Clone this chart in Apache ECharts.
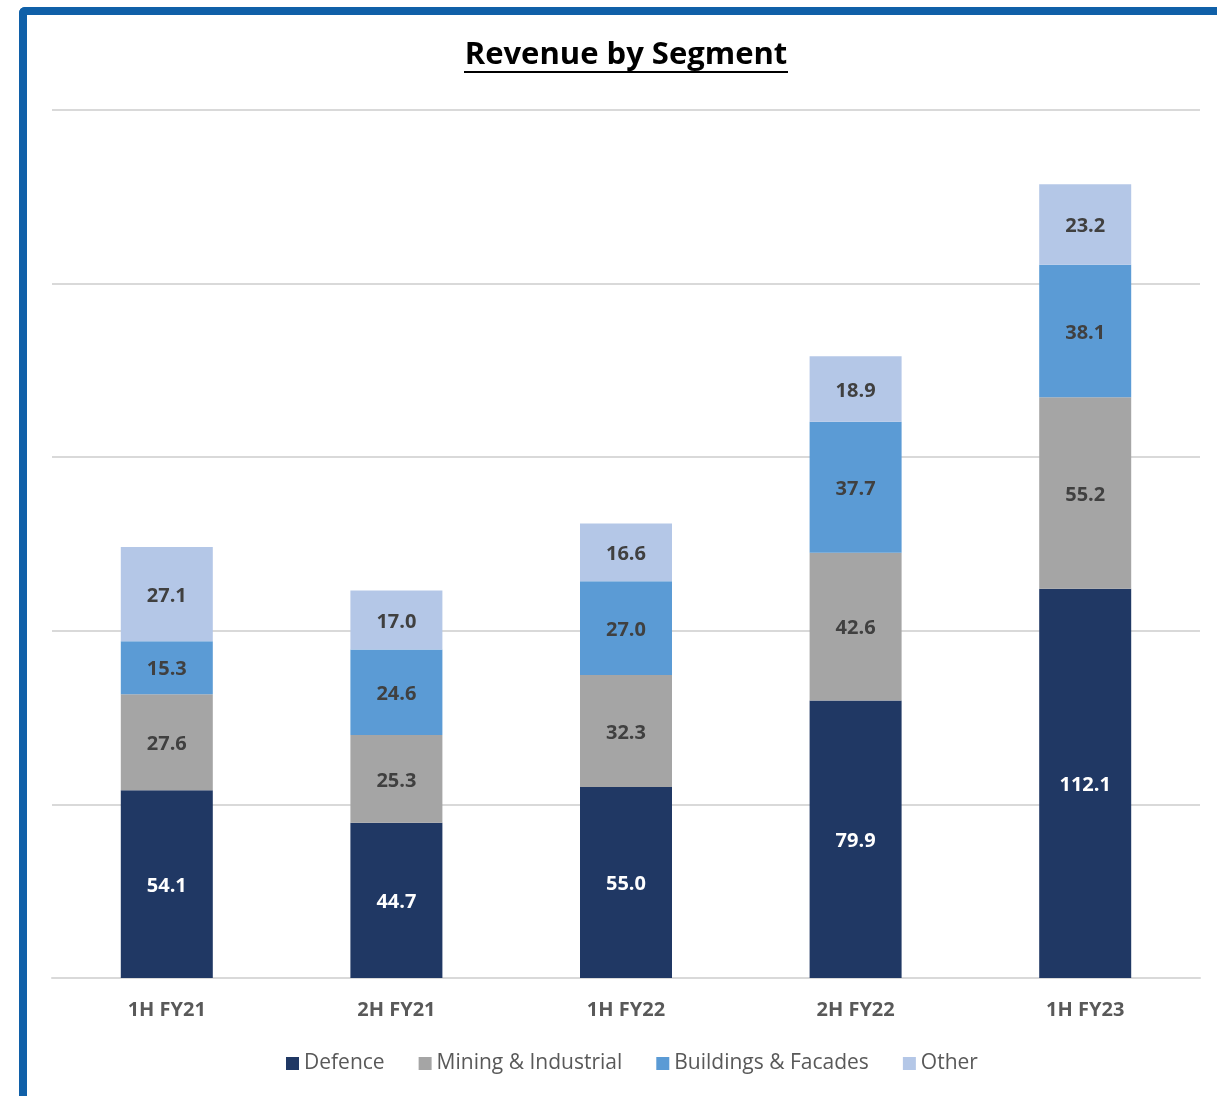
<!DOCTYPE html>
<html>
<head>
<meta charset="utf-8">
<script src="https://cdn.jsdelivr.net/npm/echarts@6/dist/echarts.min.js"></script>
<style>
  html, body { margin: 0; padding: 0; background: #fff; }
  #frame {
    position: absolute; left: 19px; top: 7px; width: 1400px; height: 1300px;
    border-left: 8px solid #1060A8; border-top: 8px solid #1060A8;
    border-top-left-radius: 6px; box-sizing: border-box;
  }
  #chart { position: absolute; left: 0; top: 0; width: 1217px; height: 1096px; }
</style>
</head>
<body>
<div id="frame"></div>
<div id="chart"></div>
<script>
const categories = ['1H FY21', '2H FY21', '1H FY22', '2H FY22', '1H FY23'];
const defence = [54.1, 44.7, 55.0, 79.9, 112.1];
const mining = [27.6, 25.3, 32.3, 42.6, 55.2];
const buildings = [15.3, 24.6, 27.0, 37.7, 38.1];
const other = [27.1, 17.0, 16.6, 18.9, 23.2];

const FONT = '"Open Sans", "Noto Sans", sans-serif';

const chart = echarts.init(document.getElementById('chart'));

function seg(name, data, color, labelColor) {
  return {
    name: name,
    type: 'bar',
    stack: 'total',
    data: data,
    barWidth: 92,
    itemStyle: { color: color },
    label: {
      show: true,
      position: 'inside',
      offset: [0, 2],
      color: labelColor,
      fontFamily: FONT,
      fontWeight: 'bold',
      fontSize: 20,
      formatter: p => p.value.toFixed(1)
    }
  };
}

const option = {
  backgroundColor: 'transparent',
  animation: false,
  graphic: [
    {
      type: 'text',
      x: 626,
      y: 55,
      style: {
        text: 'Revenue by Segment',
        fontFamily: FONT,
        fontWeight: 'bold',
        fontSize: 31,
        fill: '#000',
        align: 'center',
        verticalAlign: 'middle'
      }
    },
    {
      type: 'line',
      shape: { x1: 464, y1: 72, x2: 788, y2: 72 },
      style: { stroke: '#000', lineWidth: 2 }
    }
  ],
  legend: {
    bottom: 17,
    left: 281,
    itemWidth: 13,
    itemHeight: 13,
    itemGap: 34,
    icon: 'rect',
    textStyle: { fontFamily: FONT, fontSize: 21, color: '#595959' },
    data: ['Defence', 'Mining & Industrial', 'Buildings & Facades', 'Other']
  },
  grid: { left: 52, right: 17, top: 110, bottom: 118 },
  xAxis: {
    type: 'category',
    data: categories,
    axisLine: { show: true, lineStyle: { color: '#D9D9D9', width: 2 } },
    axisTick: { show: false },
    axisLabel: {
      margin: 22,
      fontFamily: FONT,
      fontWeight: 'bold',
      fontSize: 20,
      color: '#595959'
    }
  },
  yAxis: {
    type: 'value',
    min: 0,
    max: 250,
    interval: 50,
    axisLabel: { show: false },
    axisLine: { show: false },
    axisTick: { show: false },
    splitLine: { lineStyle: { color: '#D9D9D9', width: 2 } }
  },
  series: [
    seg('Defence', defence, '#203864', '#FFFFFF'),
    seg('Mining & Industrial', mining, '#A5A5A5', '#404040'),
    seg('Buildings & Facades', buildings, '#5B9BD5', '#404040'),
    seg('Other', other, '#B4C7E7', '#404040')
  ]
};

chart.setOption(option);
</script>
</body>
</html>
